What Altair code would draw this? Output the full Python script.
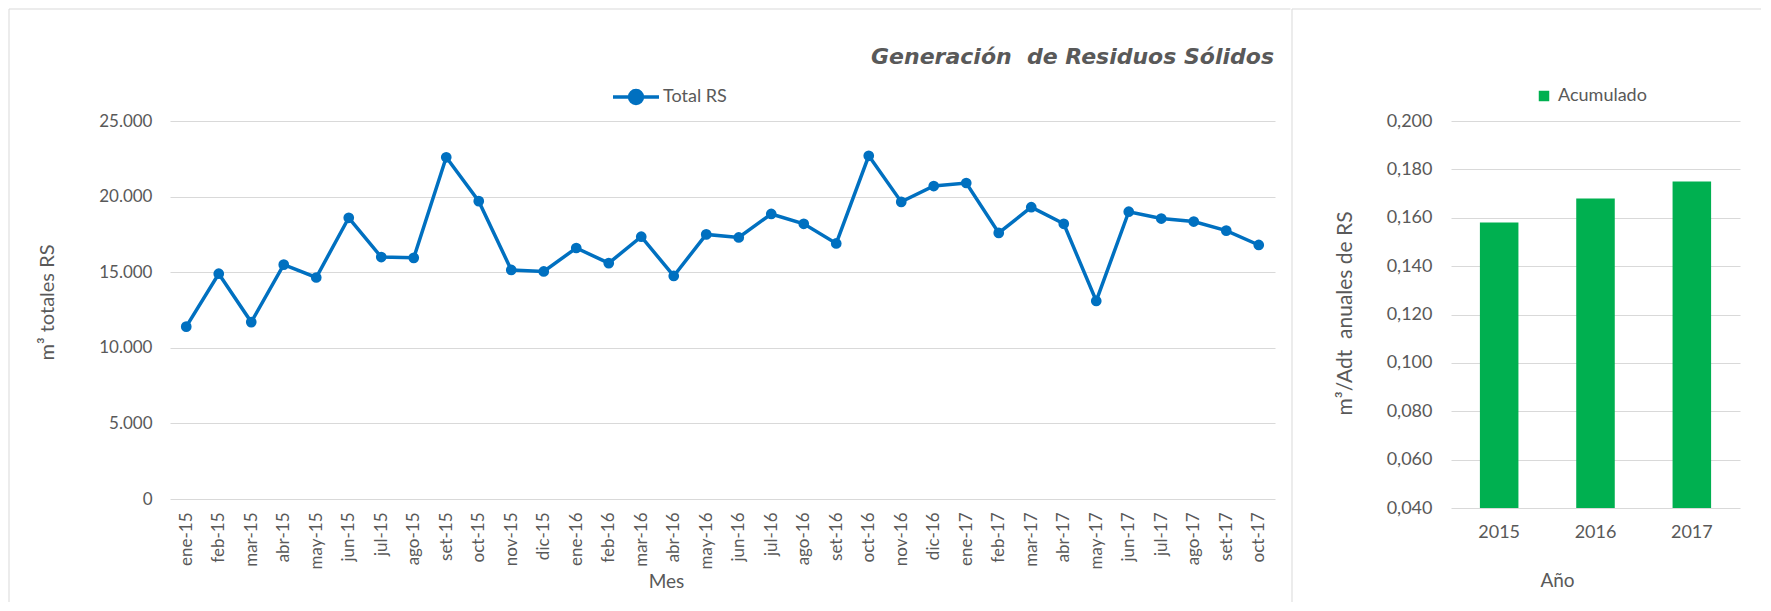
import altair as alt
import pandas as pd

months = ["ene-15", "feb-15", "mar-15", "abr-15", "may-15", "jun-15", "jul-15", "ago-15",
          "set-15", "oct-15", "nov-15", "dic-15", "ene-16", "feb-16", "mar-16", "abr-16",
          "may-16", "jun-16", "jul-16", "ago-16", "set-16", "oct-16", "nov-16", "dic-16",
          "ene-17", "feb-17", "mar-17", "abr-17", "may-17", "jun-17", "jul-17", "ago-17",
          "set-17", "oct-17"]
total_rs = [11400, 14900, 11700, 15500, 14650, 18600, 16000, 15950,
            22600, 19700, 15150, 15050, 16600, 15600, 17350, 14750,
            17500, 17300, 18850, 18200, 16900, 22700, 19650, 20700,
            20900, 17600, 19300, 18200, 13100, 19000, 18550, 18350,
            17750, 16800]
years = ["2015", "2016", "2017"]
acumulado = [0.158, 0.168, 0.175]
left_ticks = [0, 5000, 10000, 15000, 20000, 25000]
right_ticks = [0.04, 0.06, 0.08, 0.10, 0.12, 0.14, 0.16, 0.18, 0.20]

TEXT = "#595959"
GRID = "#D9D9D9"
BLUE = "#0070C0"
GREEN = "#00B050"
BORDER = "#D9D9D9"
NB = "\u00a0"

df_line = pd.DataFrame({"mes": months, "total": total_rs, "serie": ["Total RS"] * len(months)})
df_bar = pd.DataFrame({"anio": years, "valor": acumulado, "serie": ["Acumulado"] * len(years)})
one = pd.DataFrame({"k": [0]})

W1, H1 = 1105, 378
W2, H2 = 289, 387

legend_path = "M-1,0L1,0M-0.28,0A0.28,0.28,0,1,1,0.28,0A0.28,0.28,0,1,1,-0.28,0Z"

# ---------- left panel ----------
left_border = alt.Chart(one).mark_rule(color=BORDER, strokeWidth=1).encode(
    x=alt.value(-161), y=alt.value(-112), y2=alt.value(481))
left_top = alt.Chart(one).mark_rule(color=BORDER, strokeWidth=1).encode(
    x=alt.value(-161), x2=alt.value(1120.5), y=alt.value(-112))
title = alt.Chart(one).mark_text(
    align="right", baseline="middle", font="DejaVu Sans", fontSize=22,
    fontStyle="italic", fontWeight="bold", color=TEXT
).encode(x=alt.value(1104), y=alt.value(-64),
         text=alt.value("Generación" + NB + " de Residuos Sólidos"))

line = alt.Chart(df_line).mark_line(
    strokeWidth=3.5, point=alt.OverlayMarkDef(filled=True, size=115)
).encode(
    x=alt.X("mes:N", sort=months, scale=alt.Scale(type="point", padding=0.5),
            axis=alt.Axis(labelAngle=-90, labelFont="Lato", labelFontSize=17,
                          labelColor=TEXT, labelPadding=13, ticks=False, domain=False,
                          grid=False, title="Mes", titleFont="Lato", titleFontSize=19,
                          titleFontWeight="normal", titleColor=TEXT, titleX=496, titleY=82,
                          titleBaseline="middle", titleAlign="center")),
    y=alt.Y("total:Q", scale=alt.Scale(domain=[0, 25000], nice=False),
            axis=alt.Axis(values=left_ticks,
                          labelExpr="replace(format(datum.value, ',.0f'), ',', '.')",
                          labelFont="Lato", labelFontSize=17, labelColor=TEXT,
                          labelPadding=18, ticks=False, domain=False,
                          gridColor=GRID, gridWidth=1,
                          title="m³ totales RS", titleFont="Lato", titleFontSize=20,
                          titleFontWeight="normal", titleColor=TEXT,
                          titleX=-123, titleY=181, titleAngle=-90,
                          titleBaseline="middle", titleAlign="center")),
    color=alt.Color("serie:N", scale=alt.Scale(range=[BLUE]),
                    legend=alt.Legend(orient="none", legendX=441, legendY=-49, title=None,
                                      padding=0, symbolType=legend_path, symbolSize=2116,
                                      symbolStrokeWidth=3.5, symbolFillColor=BLUE,
                                      symbolStrokeColor=BLUE, labelFont="Lato",
                                      labelFontSize=18, labelColor=TEXT, labelOffset=2)),
)

left = alt.layer(left_border, left_top, title, line).properties(width=W1, height=H1)

# ---------- right panel ----------
divider = alt.Chart(one).mark_rule(color=BORDER, strokeWidth=1).encode(
    x=alt.value(-159), y=alt.value(-112), y2=alt.value(481))
right_top = alt.Chart(one).mark_rule(color=BORDER, strokeWidth=1).encode(
    x=alt.value(-159), x2=alt.value(310), y=alt.value(-112))

bars = alt.Chart(df_bar).mark_bar().encode(
    x=alt.X("anio:N", sort=years, scale=alt.Scale(paddingInner=0.6, paddingOuter=0.3),
            axis=alt.Axis(labelAngle=0, labelFont="Lato", labelFontSize=18,
                          labelColor=TEXT, labelPadding=15, ticks=False, domain=False,
                          grid=False, title="Año", titleFont="Lato", titleFontSize=19,
                          titleFontWeight="normal", titleColor=TEXT, titleX=106, titleY=72,
                          titleBaseline="middle", titleAlign="center")),
    y=alt.Y("valor:Q", scale=alt.Scale(domain=[0.04, 0.2], nice=False, zero=False),
            axis=alt.Axis(values=right_ticks,
                          labelExpr="replace(format(datum.value, '.3f'), '.', ',')",
                          labelFont="Lato", labelFontSize=18, labelColor=TEXT,
                          labelPadding=19, ticks=False, domain=False,
                          gridColor=GRID, gridWidth=1,
                          title="m³/Adt" + NB + " anuales de RS", titleFont="Lato",
                          titleFontSize=21, titleFontWeight="normal", titleColor=TEXT,
                          titleX=-106, titleY=192, titleAngle=-90,
                          titleBaseline="middle", titleAlign="center")),
    y2=alt.datum(0.04),
    color=alt.Color("serie:N", scale=alt.Scale(range=[GREEN]),
                    legend=alt.Legend(orient="none", legendX=84, legendY=-34, title=None,
                                      padding=0, symbolType="square", symbolSize=110,
                                      symbolStrokeWidth=0, labelFont="Lato",
                                      labelFontSize=18, labelColor=TEXT, labelOffset=5)),
)

right = alt.layer(divider, right_top, bars).properties(width=W2, height=H2)

chart = alt.hconcat(left, right, spacing=0).resolve_scale(color="independent").properties(
    padding={"left": 0, "top": 0, "right": 0, "bottom": 0}
).configure_view(strokeWidth=0)

chart.save("out.html", embed_options={"renderer": "svg", "actions": False})
